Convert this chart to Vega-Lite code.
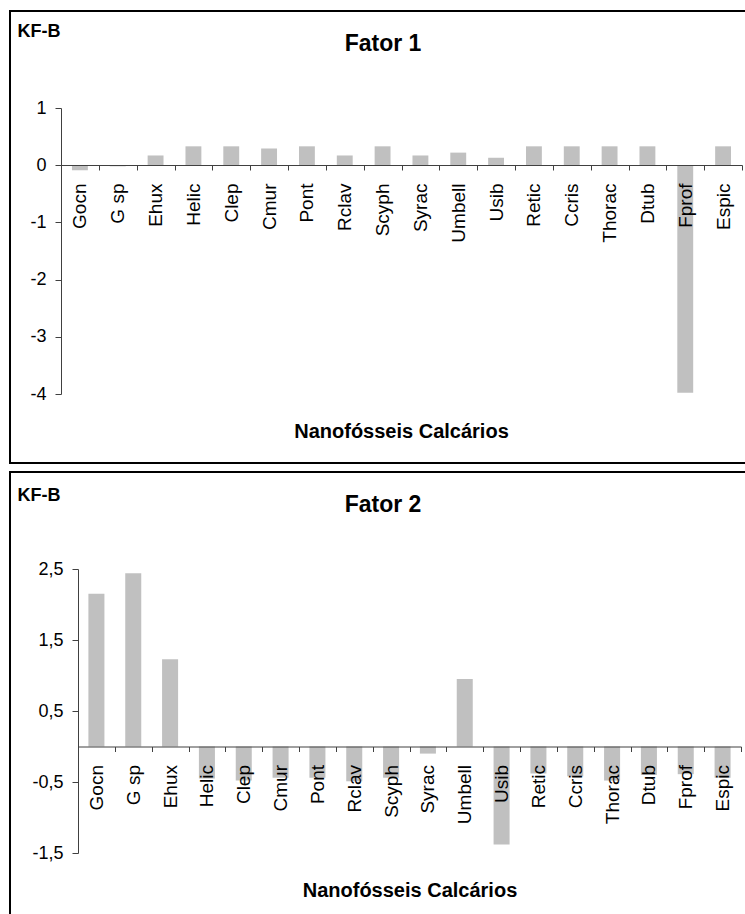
{
  "$schema": "https://vega.github.io/schema/vega-lite/v6.json",
  "background": "white",
  "padding": {"left": 0, "top": 10, "right": 0, "bottom": 0},
  "spacing": 7,
  "config": {
    "view": {"stroke": "black", "strokeWidth": 2},
    "font": "Liberation Sans",
    "axis": {"domainColor": "#404040", "tickColor": "#404040", "labelColor": "black", "titleColor": "black", "grid": false, "labelFont": "Liberation Sans", "titleFont": "Liberation Sans"}
  },
  "data": {"values": [
    {"taxon": "Gocn", "f1": -0.09, "f2": 2.15},
    {"taxon": "G sp", "f1": -0.02, "f2": 2.44},
    {"taxon": "Ehux", "f1": 0.17, "f2": 1.23},
    {"taxon": "Helic", "f1": 0.33, "f2": -0.45},
    {"taxon": "Clep", "f1": 0.33, "f2": -0.48},
    {"taxon": "Cmur", "f1": 0.29, "f2": -0.44},
    {"taxon": "Pont", "f1": 0.33, "f2": -0.44},
    {"taxon": "Rclav", "f1": 0.17, "f2": -0.49},
    {"taxon": "Scyph", "f1": 0.33, "f2": -0.44},
    {"taxon": "Syrac", "f1": 0.17, "f2": -0.10},
    {"taxon": "Umbell", "f1": 0.22, "f2": 0.95},
    {"taxon": "Usib", "f1": 0.13, "f2": -1.38},
    {"taxon": "Retic", "f1": 0.33, "f2": -0.38},
    {"taxon": "Ccris", "f1": 0.33, "f2": -0.42},
    {"taxon": "Thorac", "f1": 0.33, "f2": -0.48},
    {"taxon": "Dtub", "f1": 0.33, "f2": -0.40},
    {"taxon": "Fprof", "f1": -3.98, "f2": -0.39},
    {"taxon": "Espic", "f1": 0.33, "f2": -0.44}
  ]},
  "vconcat": [
    {
      "width": 746,
      "height": 452,
      "title": {"text": "Fator 1", "frame": "group", "anchor": "middle", "offset": -63, "baseline": "alphabetic", "fontSize": 23, "fontWeight": "bold", "font": "Liberation Sans", "color": "black"},
      "mark": {"type": "bar", "color": "#c0c0c0", "width": {"band": 0.42}},
      "encoding": {
        "x": {
          "field": "taxon", "type": "nominal", "sort": null,
          "scale": {"range": [51, 732], "paddingInner": 0, "paddingOuter": 0},
          "axis": {"orient": "bottom", "offset": -298, "zindex": 1, "tickBand": "extent", "tickSize": 5, "labelAngle": -90, "labelAlign": "right", "labelBaseline": "middle", "labelPadding": 13, "labelFontSize": 19, "labelOverlap": false, "labelBound": false,
            "title": "Nanofósseis Calcários", "titleX": 391, "titleY": 272, "titleAlign": "center", "titleBaseline": "alphabetic", "titleFontSize": 20, "titleFontWeight": "bold"}
        },
        "y": {
          "field": "f1", "type": "quantitative",
          "scale": {"domain": [-4, 1], "range": [383, 97], "nice": false},
          "axis": {"offset": -51, "values": [-4, -3, -2, -1, 0, 1], "labelExpr": "(datum.value < 0 ? '-' : '') + format(abs(datum.value), 'd')", "tickSize": 6, "labelPadding": 9, "labelFontSize": 18,
            "title": "KF-B", "titleAngle": 0, "titleX": -44, "titleY": 25, "titleAlign": "left", "titleBaseline": "alphabetic", "titleFontSize": 18, "titleFontWeight": "bold"}
        }
      }
    },
    {
      "width": 746,
      "height": 454,
      "title": {"text": "Fator 2", "frame": "group", "anchor": "middle", "offset": -63, "baseline": "alphabetic", "fontSize": 23, "fontWeight": "bold", "font": "Liberation Sans", "color": "black"},
      "mark": {"type": "bar", "color": "#c0c0c0", "width": {"band": 0.435}},
      "encoding": {
        "x": {
          "field": "taxon", "type": "nominal", "sort": null,
          "scale": {"range": [68, 731], "paddingInner": 0, "paddingOuter": 0},
          "axis": {"orient": "bottom", "offset": -179.5, "zindex": 1, "tickBand": "extent", "tickSize": 5, "labelAngle": -90, "labelAlign": "right", "labelBaseline": "middle", "labelPadding": 13, "labelFontSize": 19, "labelOverlap": false, "labelBound": false,
            "title": "Nanofósseis Calcários", "titleX": 399.5, "titleY": 149.5, "titleAlign": "center", "titleBaseline": "alphabetic", "titleFontSize": 20, "titleFontWeight": "bold"}
        },
        "y": {
          "field": "f2", "type": "quantitative",
          "scale": {"domain": [-1.5, 2.5], "range": [381, 97], "nice": false},
          "axis": {"offset": -68, "values": [-1.5, -0.5, 0.5, 1.5, 2.5], "labelExpr": "(datum.value < 0 ? '-' : '') + replace(format(abs(datum.value), '.1f'), '.', ',')", "tickSize": 6, "labelPadding": 9, "labelFontSize": 18,
            "title": "KF-B", "titleAngle": 0, "titleX": -61, "titleY": 28, "titleAlign": "left", "titleBaseline": "alphabetic", "titleFontSize": 18, "titleFontWeight": "bold"}
        }
      }
    }
  ]
}
